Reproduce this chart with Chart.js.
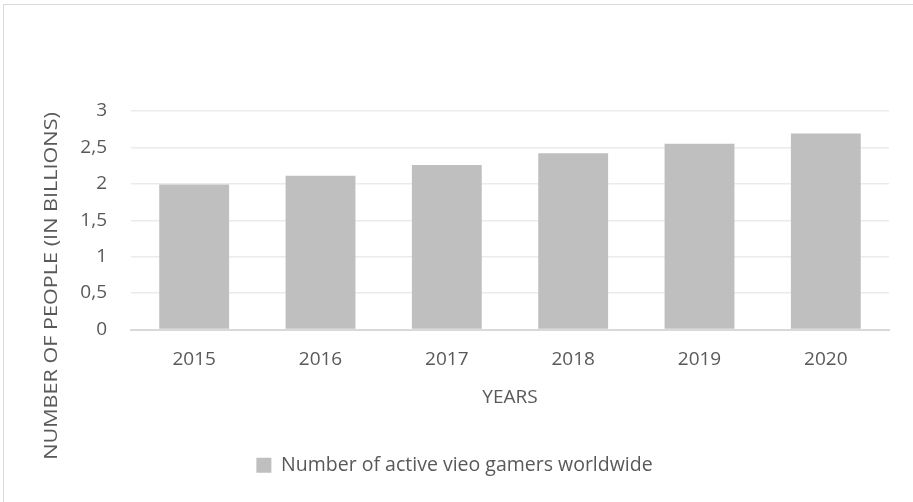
<!DOCTYPE html>
<html>
<head>
<meta charset="utf-8">
<script src="https://cdn.jsdelivr.net/npm/chart.js@4/dist/chart.umd.min.js"></script>
<style>
  html, body { margin: 0; padding: 0; background: #ffffff; }
  #wrap { position: relative; width: 913px; height: 502px; }
  #frame {
    position: absolute; left: 3px; top: 4px; right: 0; bottom: 0;
    border-left: 1px solid #d9d9d9; border-top: 1px solid #d9d9d9;
  }
  #gamersChart { position: absolute; left: 0; top: 0; }
</style>
</head>
<body>
<div id="wrap">
  <div id="frame"></div>
  <canvas id="gamersChart" width="913" height="502"></canvas>
</div>
<script>
// Datos: jugadores activos de videojuegos (miles de millones)
var anios = ['2015', '2016', '2017', '2018', '2019', '2020'];
var jugadores = [1.99, 2.11, 2.26, 2.42, 2.55, 2.69];
var etiquetasY = ['0', '0,5', '1', '1,5', '2', '2,5', '3'];

var fuente = 'Open Sans, sans-serif';
var gris = '#595959';

// Titulo del eje Y dibujado a mano (centrado sobre todo el grafico)
var tituloY = {
    id: 'tituloY',
    afterDraw: function (chart) {
        var ctx = chart.ctx;
        ctx.save();
        ctx.translate(52, 286);
        ctx.rotate(-Math.PI / 2);
        ctx.scale(1.2, 1); // texto un poco alargado
        ctx.fillStyle = gris;
        ctx.font = '18px ' + fuente;
        ctx.textAlign = 'center';
        ctx.textBaseline = 'middle';
        ctx.fillText('NUMBER OF PEOPLE (IN BILLIONS)', 0, 0);
        ctx.restore();
    }
};

var ctx = document.getElementById('gamersChart').getContext('2d');
var chart = new Chart(ctx, {
    type: 'bar',
    data: {
        labels: anios,
        datasets: [{
            label: 'Number of active vieo gamers worldwide',
            data: jugadores,
            backgroundColor: '#bfbfbf',
            borderWidth: 0,
            barPercentage: 0.553,
            categoryPercentage: 1
        }]
    },
    options: {
        responsive: false,
        animation: false,
        layout: { padding: { top: 111, right: 24, bottom: 17, left: 20 } },
        scales: {
            x: {
                grid: { display: false, drawTicks: false },
                border: { color: '#d9d9d9', width: 2 },
                ticks: { color: gris, font: { family: fuente, size: 19 }, padding: 19 },
                title: {
                    display: true, text: 'YEARS', color: gris,
                    font: { family: fuente, size: 19 }, padding: { top: 4, bottom: 25 }
                },
                afterFit: function (scale) { scale.height = 104; }
            },
            y: {
                min: 0, max: 3,
                grid: { color: '#ebebeb', lineWidth: 1.5, drawTicks: false },
                border: { display: false },
                ticks: {
                    stepSize: 0.5,
                    color: gris,
                    font: { family: fuente, size: 19 },
                    padding: 24,
                    callback: function (value) {
                        return etiquetasY[Math.round(value * 2)];
                    }
                },
                afterFit: function (scale) { scale.width = 111; }
            }
        },
        plugins: {
            legend: {
                position: 'bottom',
                labels: {
                    color: gris,
                    font: { family: fuente, size: 19.5 },
                    boxWidth: 15, boxHeight: 15, padding: 22
                }
            },
            tooltip: { enabled: false }
        }
    },
    plugins: [tituloY]
});
</script>
</body>
</html>
